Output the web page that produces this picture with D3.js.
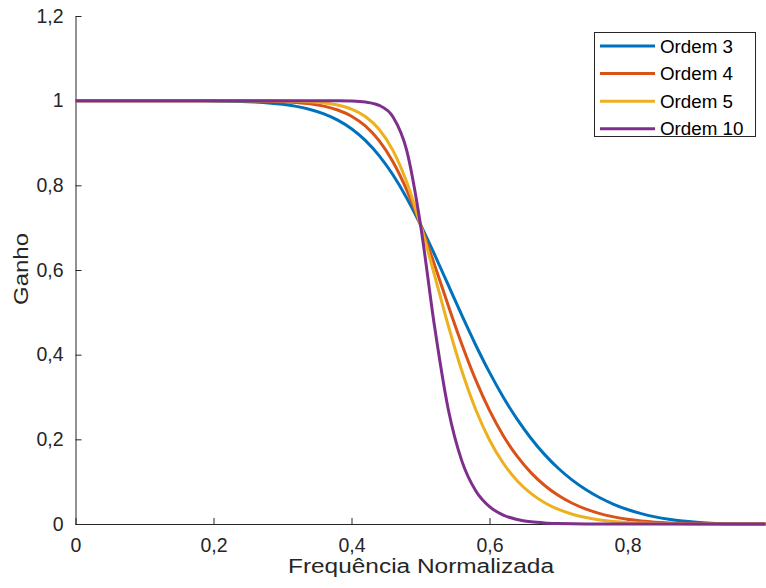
<!DOCTYPE html>
<html>
<head>
<meta charset="utf-8">
<script src="https://cdn.jsdelivr.net/npm/d3@7"></script>
<style>
  body { margin: 0; background: #fff; }
  svg { display: block; font-family: "Liberation Sans", Arial, sans-serif; }
</style>
</head>
<body>
<svg id="chart" width="766" height="588"></svg>
<script>
// normalized frequency, 0 to 1 in steps of 0.02
const freq = d3.range(51).map(i => +(i * 0.02).toFixed(2));

const ordem3 = [1, 1, 1, 1, 1, 1, 1, 0.9999, 0.9999, 0.9997, 0.9994, 0.9989, 0.9981, 0.9967, 0.9946,
  0.9914, 0.9865, 0.9793, 0.9689, 0.9541, 0.9337, 0.9062, 0.8702, 0.8249, 0.7702, 0.7071,
  0.6378, 0.5653, 0.4927, 0.4229, 0.3581, 0.2995, 0.2476, 0.2026, 0.1639, 0.1311, 0.1036,
  0.0808, 0.0619, 0.0466, 0.0343, 0.0245, 0.0169, 0.0112, 0.0069, 0.0040, 0.0020, 0.0008,
  0.0002, 0.0000, 0];
const ordem4 = [1, 1, 1, 1, 1, 1, 1, 1, 1, 1, 0.9999, 0.9999, 0.9997, 0.9994, 0.9988,
  0.9977, 0.9959, 0.9926, 0.9871, 0.9780, 0.9633, 0.9403, 0.9056, 0.8559, 0.7894, 0.7071,
  0.6139, 0.5171, 0.4242, 0.3404, 0.2684, 0.2086, 0.1601, 0.1214, 0.0910, 0.0673, 0.0490,
  0.0350, 0.0246, 0.0168, 0.0111, 0.0071, 0.0043, 0.0025, 0.0013, 0.0006, 0.0003, 0.0001,
  0, 0, 0];
const ordem5 = [1, 1, 1, 1, 1, 1, 1, 1, 1, 1, 1, 1, 0.9999, 0.9999, 0.9997,
  0.9994, 0.9987, 0.9974, 0.9947, 0.9897, 0.9801, 0.9628, 0.9325, 0.8826, 0.8076, 0.7071,
  0.5898, 0.4701, 0.3613, 0.2704, 0.1984, 0.1435, 0.1024, 0.0722, 0.0502, 0.0343, 0.0231,
  0.0152, 0.0097, 0.0060, 0.0036, 0.0021, 0.0011, 0.0006, 0.0003, 0.0001, 0, 0,
  0, 0, 0];
const ordem10 = [1, 1, 1, 1, 1, 1, 1, 1, 1, 1, 1, 1, 1, 1, 1,
  1, 1, 1, 0.9999, 0.9998, 0.9992, 0.9969, 0.9889, 0.9620, 0.8824, 0.7071,
  0.4706, 0.2729, 0.1485, 0.0786, 0.0410, 0.0210, 0.0106, 0.0052, 0.0025, 0.0012, 0.0005,
  0.0002, 0.0001, 0, 0, 0, 0, 0, 0, 0, 0, 0,
  0, 0, 0];

const seriesNames = ["Ordem 3", "Ordem 4", "Ordem 5", "Ordem 10"];
const seriesValues = [ordem3, ordem4, ordem5, ordem10];
const colors = ["#0072BD", "#D95319", "#EDB120", "#7E2F8E"];

const xTicks = [0, 0.2, 0.4, 0.6, 0.8];
const yTicks = [0, 0.2, 0.4, 0.6, 0.8, 1, 1.2];

const svg = d3.select('#chart');
const axisColor = '#262626';

const xScale = d3.scaleLinear().domain([0, 1]).range([75.5, 765.5]);
const yScale = d3.scaleLinear().domain([0, 1.2]).range([524, 16]);

const fmt = d => String(d).replace('.', ',');

// axes (ticks inside, matlab style)
const xAxis = d3.axisBottom(xScale).tickValues(xTicks).tickFormat(fmt)
  .tickSizeInner(-6).tickSizeOuter(0).tickPadding(14);
const yAxis = d3.axisLeft(yScale).tickValues(yTicks).tickFormat(fmt)
  .tickSizeInner(-6).tickSizeOuter(0).tickPadding(12);

const gx = svg.append('g').attr('transform', 'translate(0,524)').call(xAxis);
const gy = svg.append('g').attr('transform', 'translate(75.5,0)').call(yAxis);

[gx, gy].forEach(g => {
  g.select('.domain').attr('stroke', axisColor);
  g.selectAll('.tick line').attr('stroke', axisColor);
  g.selectAll('.tick text').attr('fill', axisColor)
    .style('font-size', '19.5px').style('font-family', '"Liberation Sans", Arial, sans-serif');
});
gx.select('.domain').attr('d', 'M75.5,0.5H766');
gx.selectAll('.tick text').attr('dy', '0.71em');

// curves
const line = d3.line()
  .x((d, i) => xScale(freq[i]))
  .y(d => yScale(d))
  .curve(d3.curveMonotoneX);

svg.append('g').selectAll('path')
  .data(seriesValues)
  .join('path')
  .attr('d', line)
  .attr('fill', 'none')
  .attr('stroke', (d, i) => colors[i])
  .attr('stroke-width', 3);

// axis labels
svg.append('text')
  .attr('x', 421).attr('y', 573)
  .attr('text-anchor', 'middle')
  .attr('fill', axisColor)
  .style('font-size', '20px')
  .attr('textLength', 266).attr('lengthAdjust', 'spacingAndGlyphs')
  .text('Frequência Normalizada');

svg.append('text')
  .attr('transform', 'translate(28,269) rotate(-90)')
  .attr('text-anchor', 'middle')
  .attr('fill', axisColor)
  .style('font-size', '20px')
  .attr('textLength', 72).attr('lengthAdjust', 'spacingAndGlyphs')
  .text('Ganho');

// legend
const legend = svg.append('g');
legend.append('rect')
  .attr('x', 594.5).attr('y', 32.5)
  .attr('width', 161).attr('height', 104)
  .attr('fill', '#fff').attr('stroke', axisColor).attr('stroke-width', 1);

const rows = legend.selectAll('g.row')
  .data(seriesNames)
  .join('g')
  .attr('transform', (d, i) => `translate(0,${46 + i * 27.6})`);

rows.append('line')
  .attr('x1', 600).attr('x2', 655)
  .attr('stroke', (d, i) => colors[i])
  .attr('stroke-width', 3);

rows.append('text')
  .attr('x', 660).attr('dy', '0.35em')
  .attr('fill', '#000')
  .style('font-size', '18.8px')
  .text(d => d);
</script>
</body>
</html>
